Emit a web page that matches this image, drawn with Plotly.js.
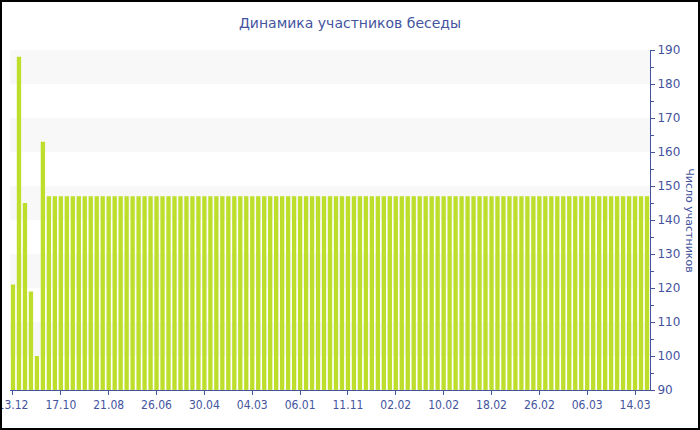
<!DOCTYPE html>
<html>
<head>
<meta charset="utf-8">
<script src="https://cdn.plot.ly/plotly-3.0.1.min.js"></script>
<style>
  html, body { margin: 0; padding: 0; background: #fff; }
  #frame { position: absolute; left: 0; top: 0; width: 700px; height: 430px; box-sizing: border-box; border: 2px solid #000; overflow: hidden; }
  #chart { width: 696px; height: 426px; }
</style>
</head>
<body>
<div id="frame"><div id="chart"></div></div>
<script>
// Participants count per day (one bar per day)
const participants = [
  121, 188, 145, 119, 100, 163, 147, 147, 147, 147,
  147, 147, 147, 147, 147, 147, 147, 147, 147, 147,
  147, 147, 147, 147, 147, 147, 147, 147, 147, 147,
  147, 147, 147, 147, 147, 147, 147, 147, 147, 147,
  147, 147, 147, 147, 147, 147, 147, 147, 147, 147,
  147, 147, 147, 147, 147, 147, 147, 147, 147, 147,
  147, 147, 147, 147, 147, 147, 147, 147, 147, 147,
  147, 147, 147, 147, 147, 147, 147, 147, 147, 147,
  147, 147, 147, 147, 147, 147, 147, 147, 147, 147,
  147, 147, 147, 147, 147, 147, 147, 147, 147, 147,
  147, 147, 147, 147, 147, 147, 147
];
// Labels shown under every 8th bar
const tickLabels = ["13.12", "17.10", "21.08", "26.06", "30.04", "04.03", "06.01",
                    "11.11", "02.02", "10.02", "18.02", "26.02", "06.03", "14.03"];
const labelStep = 8;
// Shaded value bands on the value axis
const bandRanges = [[100, 110], [120, 130], [140, 150], [160, 170], [180, 190]];

const barIndex = participants.map((_, i) => i);
const tickIdx = tickLabels.map((_, i) => i * labelStep);

const txt = '#44549e';
const trace = {
  type: 'bar',
  x: barIndex,
  y: participants,
  marker: { color: '#bddf2c', line: { width: 0 } },
  hoverinfo: 'y',
  base: 0
};

const shapes = bandRanges.map(r => ({
  type: 'rect', xref: 'paper', yref: 'y', x0: 0, x1: 1, y0: r[0], y1: r[1],
  fillcolor: '#f8f8f8', line: { width: 0 }, layer: 'below'
}));

const layout = {
  width: 696, height: 426,
  margin: { l: 8, r: 48, t: 48, b: 38, pad: 0 },
  paper_bgcolor: '#fff', plot_bgcolor: 'rgba(0,0,0,0)',
  font: { family: 'DejaVu Sans, Verdana, sans-serif', color: txt, size: 12 },
  title: { text: 'Динамика участников беседы', font: { size: 14, color: txt, family: 'DejaVu Sans, sans-serif' },
           x: 0.5, xref: 'container', xanchor: 'center', y: 1 - 21 / 426, yref: 'container', yanchor: 'middle' },
  bargap: 0.28,
  showlegend: false,
  xaxis: {
    range: [-0.5, participants.length - 0.5],
    tickmode: 'array', tickvals: tickIdx, ticktext: tickLabels,
    ticks: 'outside', ticklen: 4, tickcolor: txt,
    ticklabeloverflow: 'allow',
    showline: true, linecolor: txt, linewidth: 1,
    showgrid: false, zeroline: false,
    tickfont: { family: 'DejaVu Sans Condensed, DejaVu Sans, sans-serif', size: 12, color: txt }
  },
  yaxis: {
    side: 'right', range: [90, 190], dtick: 10, tick0: 90,
    ticks: 'outside', ticklen: 4, tickcolor: txt,
    minor: { dtick: 5, ticks: 'outside', ticklen: 3, tickcolor: txt, showgrid: false },
    showline: true, linecolor: txt, linewidth: 1,
    showgrid: false, zeroline: false,
    tickfont: { family: 'DejaVu Sans, sans-serif', size: 12, color: txt }
  },
  shapes: shapes,
  annotations: [{
    text: 'Число участников', xref: 'paper', yref: 'paper', x: 1.062, y: 0.5,
    xanchor: 'center', yanchor: 'middle', textangle: 90, showarrow: false,
    font: { size: 11, color: txt, family: 'DejaVu Sans, sans-serif' }
  }]
};

Plotly.newPlot('chart', [trace], layout, { displayModeBar: false, staticPlot: true });
</script>
</body>
</html>
